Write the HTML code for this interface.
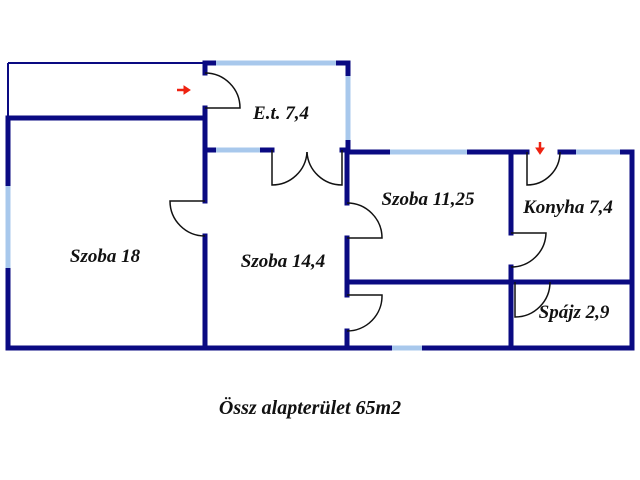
<!DOCTYPE html>
<html><head><meta charset="utf-8"><style>
html,body{margin:0;padding:0;background:#fff;width:640px;height:480px;overflow:hidden}
text{font-family:"Liberation Serif",serif;font-weight:bold;font-style:italic;fill:#111}
</style></head><body>
<svg width="640" height="480" viewBox="0 0 640 480" xmlns="http://www.w3.org/2000/svg">
<g stroke="#0a0a82" stroke-width="2" fill="none">
<path d="M8 63 H205 M8 63 V118"/>
</g>
<g stroke="#0a0a82" stroke-width="5" fill="none" stroke-linecap="square">
<path d="M8 118 H205"/>
<path d="M8 118 V348 H632 V152 H560"/>
<path d="M527 152 H347"/>
<path d="M205 63 H348 V150"/>
<path d="M205 63 V73"/>
<path d="M205 108 V201"/>
<path d="M205 236 V348"/>
<path d="M205 150 H272"/>
<path d="M342 150 H347"/>
<path d="M347 150 V203 M347 238 V295 M347 331 V348"/>
<path d="M347 282 H632"/>
<path d="M511 152 V233 M511 267 V348"/>
</g>
<g stroke="#a8c8ec" stroke-width="5" fill="none">
<path d="M216 63 H336"/>
<path d="M348 76 V140"/>
<path d="M216 150 H260"/>
<path d="M8 186 V268"/>
<path d="M390 152 H467"/>
<path d="M576 152 H620"/>
<path d="M392 348 H422"/>
</g>
<g stroke="#111" stroke-width="1.5" fill="none">
<path d="M205 73 A35 35 0 0 1 240 108 H205"/>
<path d="M272 150 V185 A35 35 0 0 0 307 152"/>
<path d="M342 150 V185 A35 35 0 0 1 307 152"/>
<path d="M205 201 H170 A35 35 0 0 0 205 236"/>
<path d="M347 203 A35 35 0 0 1 382 238 H347"/>
<path d="M347 295 H382 A35 35 0 0 1 347 331"/>
<path d="M511 233 H546 A35 35 0 0 1 511 267"/>
<path d="M527 152 V185 A33 33 0 0 0 560 152"/>
<path d="M515 282 V317 A35 35 0 0 0 550 282"/>
</g>
<g fill="#e21" stroke="#e21">
<path d="M177 90 H186" stroke-width="2.5"/><path d="M184 86 L190 90 L184 94 Z"/>
<path d="M540 142 V150" stroke-width="2.5"/><path d="M536 148 L540 154 L544 148 Z"/>
</g>
<g font-size="19">
<text x="105" y="262" text-anchor="middle">Szoba 18</text>
<text x="283" y="267" text-anchor="middle">Szoba 14,4</text>
<text x="281" y="119" text-anchor="middle">E.t. 7,4</text>
<text x="428" y="205" text-anchor="middle">Szoba 11,25</text>
<text x="568" y="213" text-anchor="middle">Konyha 7,4</text>
<text x="574" y="318" text-anchor="middle">Spájz 2,9</text>
<text x="310" y="414" text-anchor="middle" font-size="20">Össz alapterület 65m2</text>
</g>
</svg>
</body></html>
